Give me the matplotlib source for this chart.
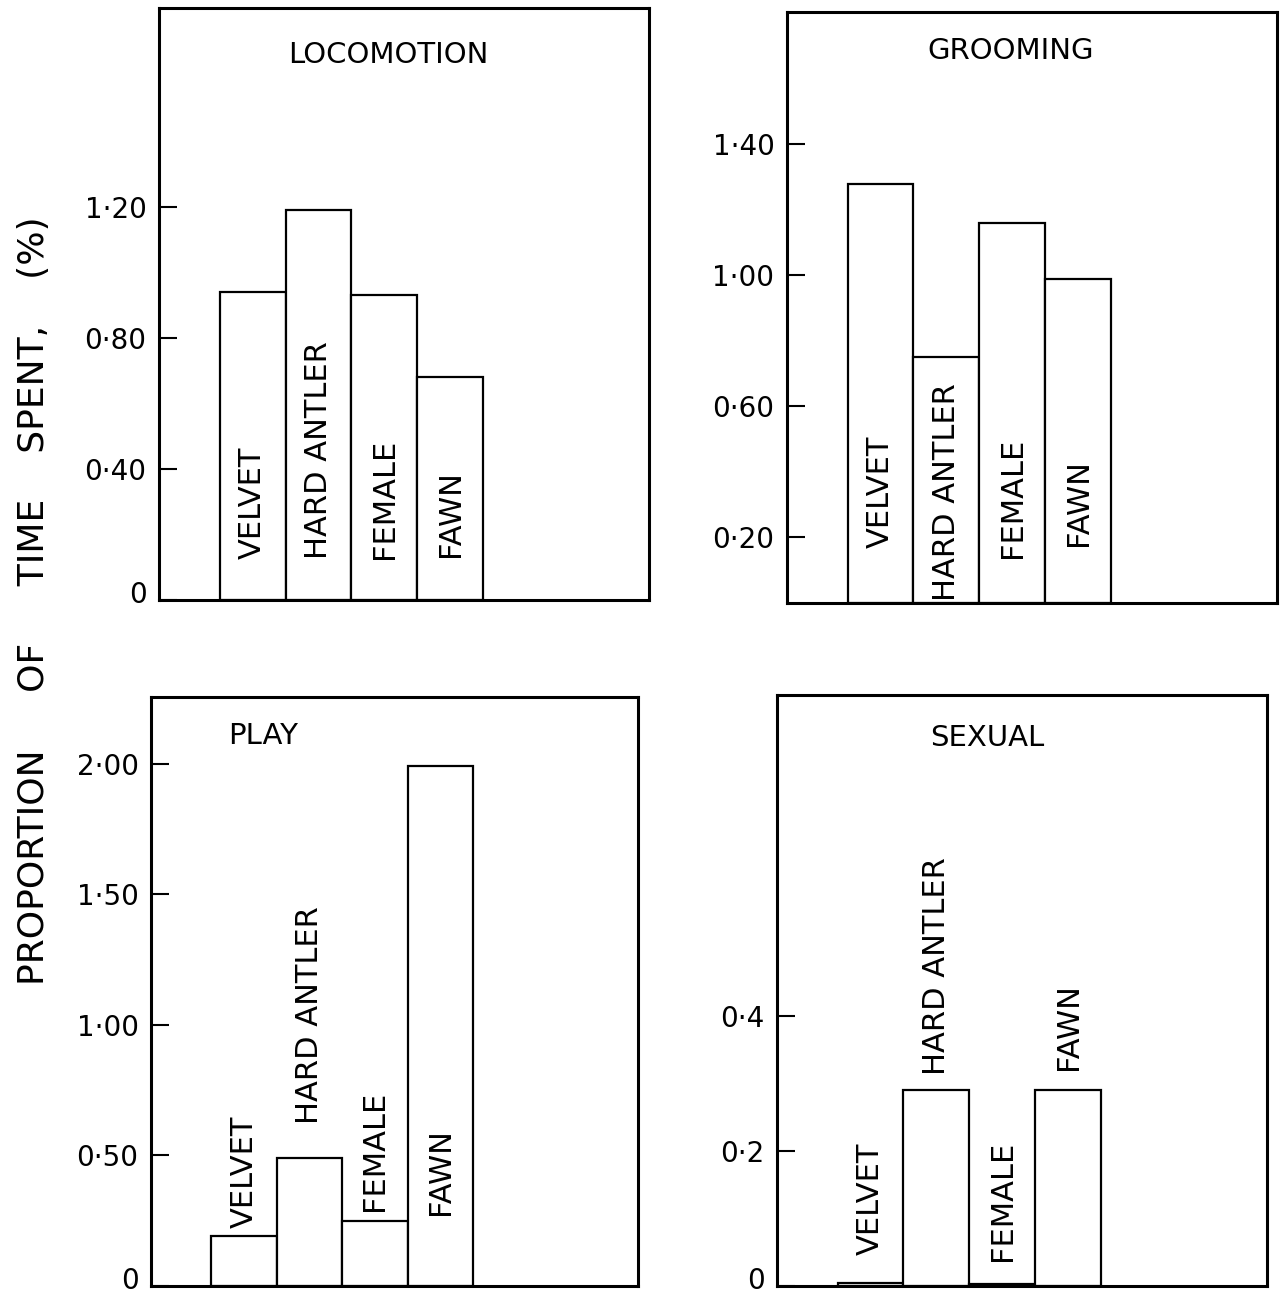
import matplotlib.pyplot as plt
from matplotlib.transforms import ScaledTranslation

plt.rcParams['font.family'] = ['DejaVu Sans']

groups = ["VELVET", "HARD ANTLER", "FEMALE", "FAWN"]

locomotion = [0.94, 1.19, 0.93, 0.68]
grooming = [1.28, 0.75, 1.16, 0.99]
play = [0.19, 0.49, 0.25, 1.99]
sexual = [0.005, 0.29, 0.003, 0.29]

loco_ticks = [0, 0.4, 0.8, 1.2]
loco_ticklabels = ["0", "0·40", "0·80", "1·20"]
groom_ticks = [0.2, 0.6, 1.0, 1.4]
groom_ticklabels = ["0·20", "0·60", "1·00", "1·40"]
play_ticks = [0, 0.5, 1.0, 1.5, 2.0]
play_ticklabels = ["0", "0·50", "1·00", "1·50", "2·00"]
sex_ticks = [0, 0.2, 0.4]
sex_ticklabels = ["0", "0·2", "0·4"]

# where the rotated group names start (data units)
loco_lab_y = [0.125, 0.125, 0.125, 0.13]
groom_lab_y = [0.168, 0.007, 0.137, 0.174]
play_lab_y = [0.222, 0.62, 0.287, 0.27]
sex_lab_y = [0.047, 0.313, 0.037, 0.32]

fig = plt.figure(figsize=(12.83, 12.94), dpi=100)


def panel(rect, vals, ymax, ticks, ticklabels, title, title_xy, title_ha, lab_y):
    ax = fig.add_axes(rect)
    x = range(len(vals))
    ax.bar(x, vals, width=1.0, color="white", edgecolor="black", linewidth=1.6)
    for xi, g, ly in zip(x, groups, lab_y):
        ax.text(xi, ly, g, rotation=90, ha="center", va="bottom", fontsize=22)
    ax.set_xlim(-1.42, 6.02)
    ax.set_ylim(0, ymax)
    ax.set_xticks([])
    ax.set_yticks(ticks)
    ax.set_yticklabels(ticklabels, fontsize=20)
    ax.tick_params(axis="y", direction="in", length=13, width=1.5, pad=9)
    # the "0" label sits a little above the base line, as in the original
    lift = ScaledTranslation(0, 6 / 72, fig.dpi_scale_trans)
    for lab in ax.get_yticklabels():
        if lab.get_text() == "0":
            lab.set_transform(lab.get_transform() + lift)
    for s in ax.spines.values():
        s.set_linewidth(2.2)
    ax.text(title_xy[0], title_xy[1], title, transform=ax.transAxes,
            ha=title_ha, va="center", fontsize=21)
    return ax


panel([0.124, 0.5363, 0.382, 0.4575], locomotion, 1.807, loco_ticks,
      loco_ticklabels, "LOCOMOTION", (0.467, 0.92), "center", loco_lab_y)
panel([0.6134, 0.534, 0.382, 0.4571], grooming, 1.805, groom_ticks,
      groom_ticklabels, "GROOMING", (0.457, 0.933), "center", groom_lab_y)
panel([0.1177, 0.0062, 0.3796, 0.4552], play, 2.256, play_ticks,
      play_ticklabels, "PLAY", (0.158, 0.934), "left", play_lab_y)
panel([0.6056, 0.0058, 0.382, 0.4571], sexual, 0.874, sex_ticks,
      sex_ticklabels, "SEXUAL", (0.43, 0.927), "center", sex_lab_y)

fig.text(0.0265, 0.536, "PROPORTION     OF     TIME    SPENT,    (%)",
         rotation=90, ha="center", va="center", fontsize=26)

plt.savefig("out.png", dpi=100)
